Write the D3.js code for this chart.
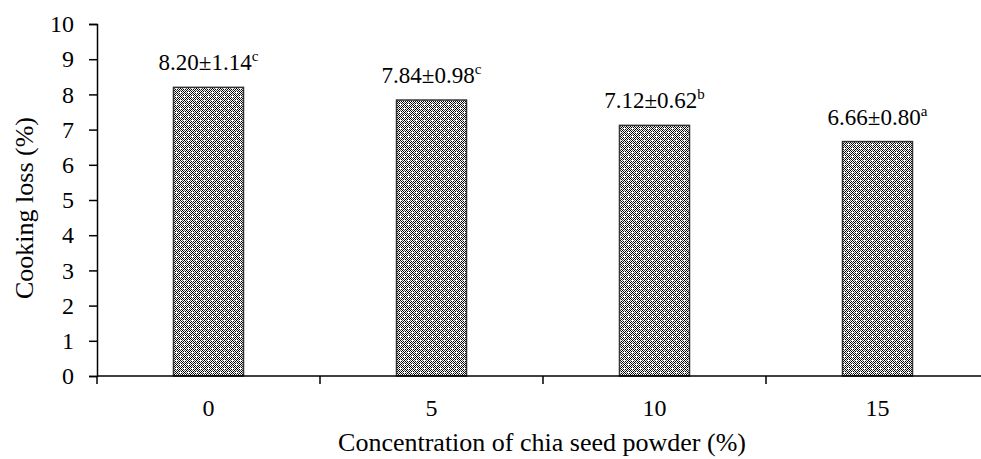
<!DOCTYPE html>
<html><head><meta charset="utf-8">
<script src="https://cdn.jsdelivr.net/npm/d3@7"></script>
<style>body{margin:0;background:#fff}svg{display:block}text{font-family:"Liberation Serif","Times New Roman",serif;fill:#000}</style>
</head><body><svg id="c" width="981" height="459"></svg>
<script>
const categories = ["0","5","10","15"];
const values = [8.20, 7.84, 7.12, 6.66];
const sds = ["1.14","0.98","0.62","0.80"];
const letters = ["c","c","b","a"];
const yTicks = [0,1,2,3,4,5,6,7,8,9,10];

const svg = d3.select("#c");
const mLeft = 97, mRight = 989, mTop = 24, mBottom = 376;
const x = d3.scaleBand().domain(categories).range([mLeft, mRight]).paddingInner(0.686).paddingOuter(0.343);
const y = d3.scaleLinear().domain([0,10]).range([mBottom, mTop]);

// pattern (8x8 tile, white plus marks on a dark dotted ground)
const defs = svg.append("defs");
const pat = defs.append("pattern").attr("id","pat").attr("patternUnits","userSpaceOnUse").attr("width",8).attr("height",8);
pat.append("rect").attr("width",8).attr("height",8).attr("fill","#fff");
const centers = [[0,0],[4,4],[8,0],[0,8],[8,8]];
for (let py=0; py<8; py++) for (let px=0; px<8; px++){
  let best = null;
  centers.forEach(c=>{ const dx=Math.abs(px-c[0]), dy=Math.abs(py-c[1]); const m=dx+dy; if(!best||m<best.m) best={dx,dy,m}; });
  let col;
  if (best.m<=1) col = "#fff";
  else if (best.dx===1 && best.dy===1) col = "#000";
  else if (best.m===2) col = "#555";
  else col = ((px+py)%2===0) ? "#000" : "#fff";
  pat.append("rect").attr("x",px).attr("y",py).attr("width",1).attr("height",1).attr("fill",col);
}

svg.append("g").selectAll("rect").data(values).join("rect")
  .attr("x",(d,i)=>x(categories[i]))
  .attr("y",d=>y(d))
  .attr("width",x.bandwidth())
  .attr("height",d=>y(0)-y(d))
  .attr("fill","url(#pat)")
  .attr("stroke","#333").attr("stroke-width",1.5);

// labels
const lab = svg.append("g").selectAll("text").data(values).join("text")
  .attr("x",(d,i)=>x(categories[i])+x.bandwidth()/2)
  .attr("y",d=>y(d)-17)
  .attr("text-anchor","middle")
  .attr("font-size",23);
lab.append("tspan").text((d,i)=>d.toFixed(2)+"±"+sds[i]);
lab.append("tspan").attr("font-size",15).attr("dy",-9).text((d,i)=>letters[i]);

// y axis
const ya = svg.append("g").attr("transform",`translate(${mLeft},0)`)
  .call(d3.axisLeft(y).tickValues(yTicks).tickSize(8).tickPadding(15).tickFormat(d3.format("d")));
ya.selectAll("path").attr("stroke","#000").attr("stroke-width",1.5);
ya.selectAll("line").attr("stroke","#000").attr("stroke-width",1.5);
ya.selectAll("text").attr("font-size",24).attr("font-family","Liberation Serif").attr("fill","#000");

// x axis
const xa = svg.append("g").attr("transform",`translate(0,${mBottom})`);
xa.append("line").attr("x1",mLeft).attr("x2",mRight).attr("stroke","#000").attr("stroke-width",1.5);
const step = x.step();
const bounds = d3.range(categories.length+1).map(i=>mLeft + i*step);
xa.selectAll("line.t").data(bounds).join("line").attr("class","t")
  .attr("x1",d=>d).attr("x2",d=>d).attr("y1",0).attr("y2",8).attr("stroke","#000").attr("stroke-width",1.5);
xa.selectAll("text").data(categories).join("text")
  .attr("x",d=>x(d)+x.bandwidth()/2).attr("y",40).attr("text-anchor","middle").attr("font-size",24).text(d=>d);

svg.append("text").attr("x",542).attr("y",451).attr("text-anchor","middle").attr("font-size",26)
  .text("Concentration of chia seed powder (%)");
svg.append("text").attr("transform",`translate(33,208) rotate(-90)`).attr("text-anchor","middle").attr("font-size",26)
  .text("Cooking loss (%)");
</script></body></html>
